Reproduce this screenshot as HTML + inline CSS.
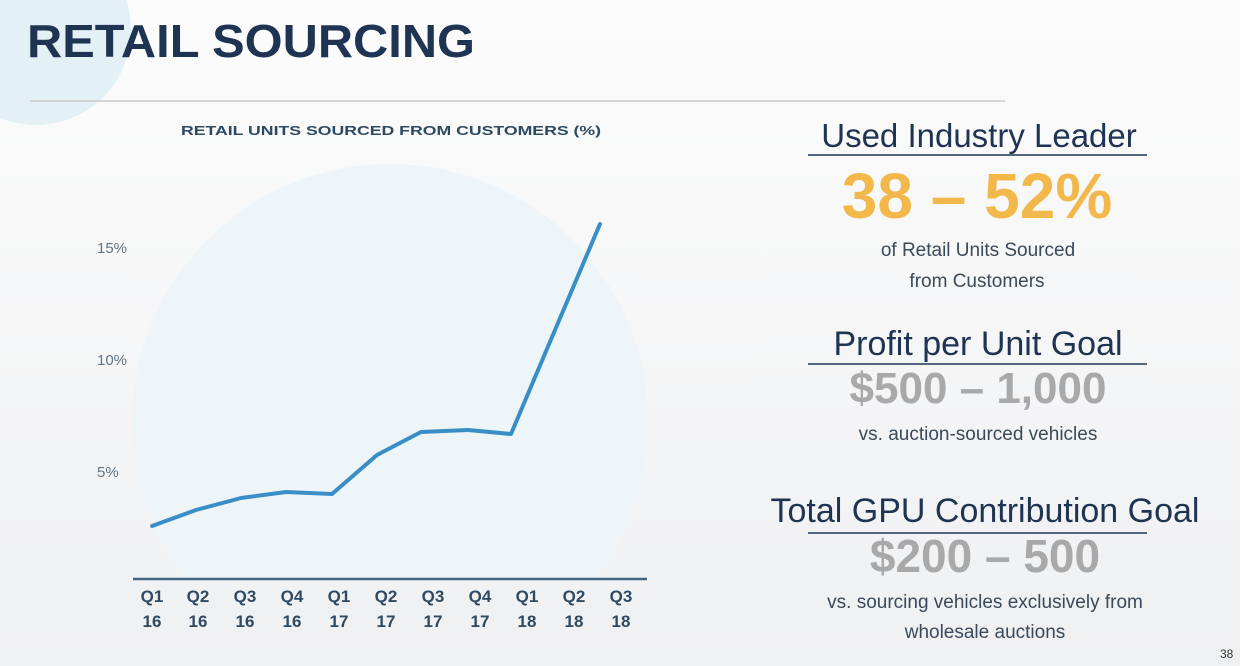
<!DOCTYPE html>
<html><head><meta charset="utf-8"><style>
html,body{margin:0;padding:0;width:1246px;height:666px;overflow:hidden}
body{background:linear-gradient(#fcfcfc,#f0f1f2)}
svg{display:block}
</style></head><body>
<svg width="1246" height="666" viewBox="0 0 1246 666" xmlns="http://www.w3.org/2000/svg" font-family="Liberation Sans, sans-serif">
<defs><linearGradient id="bg" x1="0" y1="0" x2="0" y2="1"><stop offset="0" stop-color="#fcfcfc"/><stop offset="1" stop-color="#eff0f2"/></linearGradient></defs>
<rect width="1240" height="666" fill="url(#bg)"/>
<rect x="1240" width="6" height="666" fill="#ffffff"/>
<circle cx="36" cy="30" r="95" fill="#e3f0f5"/>
<text x="27" y="57" font-size="46" font-weight="bold" fill="#1f3352" textLength="448" lengthAdjust="spacingAndGlyphs">RETAIL SOURCING</text>
<line x1="30" y1="101" x2="1005" y2="101" stroke="#c9c9c9" stroke-width="1.5"/>
<text x="181" y="135" font-size="13" font-weight="bold" fill="#2e4a63" textLength="420" lengthAdjust="spacingAndGlyphs">RETAIL UNITS SOURCED FROM CUSTOMERS (%)</text>
<clipPath id="c"><rect x="0" y="0" width="1246" height="579"/></clipPath>
<circle cx="390" cy="422" r="258" fill="#edf5f9" clip-path="url(#c)"/>
<g font-size="15" fill="#5f7688">
<text x="97" y="253">15%</text><text x="97" y="365">10%</text><text x="97" y="477">5%</text>
</g>
<line x1="133" y1="579" x2="647" y2="579" stroke="#3f6580" stroke-width="2.5"/>
<polyline points="152,526 196,510 241,498 286,492 332,494 377,455 421,432 468,430 511,434 555,330 600,224" fill="none" stroke="#3a8ec6" stroke-width="4" stroke-linejoin="round" stroke-linecap="round"/>
<g font-size="17" font-weight="bold" fill="#2e4a63" text-anchor="middle">
<text x="152" y="602">Q1</text><text x="198" y="602">Q2</text><text x="245" y="602">Q3</text><text x="292" y="602">Q4</text><text x="339" y="602">Q1</text><text x="386" y="602">Q2</text><text x="433" y="602">Q3</text><text x="480" y="602">Q4</text><text x="527" y="602">Q1</text><text x="574" y="602">Q2</text><text x="621" y="602">Q3</text>
<text x="152" y="627">16</text><text x="198" y="627">16</text><text x="245" y="627">16</text><text x="292" y="627">16</text><text x="339" y="627">17</text><text x="386" y="627">17</text><text x="433" y="627">17</text><text x="480" y="627">17</text><text x="527" y="627">18</text><text x="574" y="627">18</text><text x="621" y="627">18</text>
</g>
<g text-anchor="middle">
<text x="979" y="147" font-size="33" fill="#1f3352">Used Industry Leader</text>
<line x1="808" y1="155" x2="1147" y2="155" stroke="#52677f" stroke-width="2"/>
<text x="977" y="218" font-size="64" font-weight="bold" fill="#f2b84b">38 – 52%</text>
<text x="978" y="256" font-size="19" fill="#3a4a5a">of Retail Units Sourced</text>
<text x="977" y="287" font-size="19" fill="#3a4a5a">from Customers</text>
<text x="978" y="355" font-size="34" fill="#1f3352">Profit per Unit Goal</text>
<line x1="808" y1="364" x2="1147" y2="364" stroke="#52677f" stroke-width="2"/>
<text x="978" y="403" font-size="44" font-weight="bold" fill="#a9a9a9">$500 – 1,000</text>
<text x="978" y="440" font-size="19" fill="#3a4a5a">vs. auction-sourced vehicles</text>
<text x="985" y="522" font-size="34" fill="#1f3352">Total GPU Contribution Goal</text>
<line x1="808" y1="533" x2="1147" y2="533" stroke="#52677f" stroke-width="2"/>
<text x="985" y="572" font-size="46" font-weight="bold" fill="#a9a9a9">$200 – 500</text>
<text x="985" y="608" font-size="19" fill="#3a4a5a">vs. sourcing vehicles exclusively from</text>
<text x="985" y="638" font-size="19" fill="#3a4a5a">wholesale auctions</text>
</g>
<text x="1220" y="658" font-size="12" fill="#333">38</text>
</svg>
</body></html>
